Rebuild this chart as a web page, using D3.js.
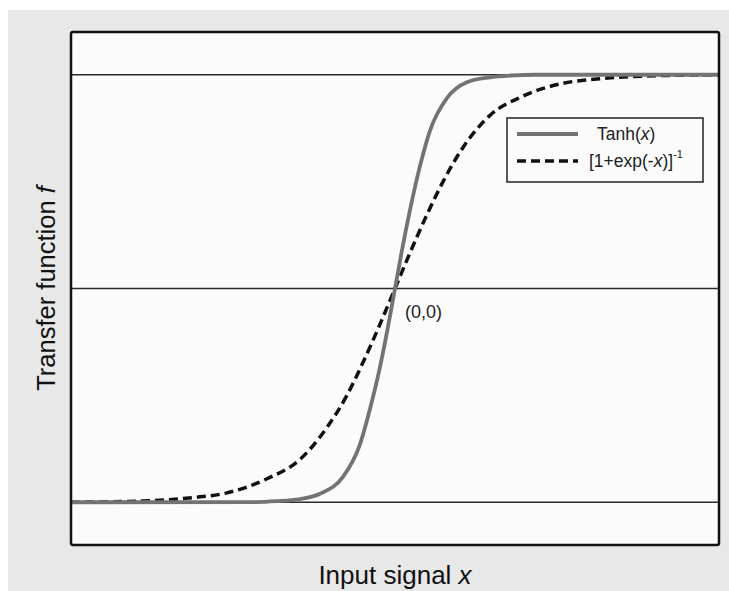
<!DOCTYPE html>
<html><head><meta charset="utf-8">
<script src="https://cdn.jsdelivr.net/npm/d3@7"></script>
<style>body{margin:0;background:#fff;font-family:Arial,"Liberation Sans",sans-serif}</style>
</head><body>
<svg id="c" width="729" height="591"></svg>
<script>
// Data (x = input signal, y = transfer function, scaled to [-1,1])
const tanhX = [-6, -2.6, -2.19, -1.76, -1.39, -0.96, -0.65, -0.46, -0.28, -0.13, 0, 0.13, 0.28, 0.46, 0.65, 0.96, 1.33, 1.76, 2.19, 2.6, 6];
const tanhY = [-1, -0.999, -0.995, -0.985, -0.96, -0.88, -0.73, -0.56, -0.37, -0.18, 0, 0.18, 0.37, 0.57, 0.74, 0.89, 0.965, 0.988, 0.997, 1.0, 1.0];
const sigX = [-6, -4.67, -3.74, -3.11, -2.37, -1.76, -1.26, -0.89, -0.60, -0.30, 0, 0.30, 0.60, 0.89, 1.26, 1.76, 2.37, 3.11, 3.74, 4.67, 6];
const sigY = [-1, -0.994, -0.978, -0.956, -0.89, -0.80, -0.65, -0.50, -0.35, -0.18, 0, 0.18, 0.35, 0.50, 0.66, 0.81, 0.90, 0.96, 0.98, 0.994, 1.0];
const refLines = [-1, 0, 1];
const xLabel = "Input signal ";
const yLabel = "Transfer function ";
const originLabel = "(0,0)";

const svg = d3.select("#c");
const W = 729, H = 591;
const m = {left: 71, top: 32, right: 719, bottom: 545};

svg.append("rect").attr("x", 8).attr("y", 10).attr("width", W - 8).attr("height", H - 10).attr("fill", "#e8e8e8");

const x = d3.scaleLinear().domain([-6, 6]).range([m.left, m.right]);
const y = d3.scaleLinear().domain([-1.2, 1.2]).range([m.bottom, m.top]);

svg.append("rect").attr("x", m.left).attr("y", m.top)
  .attr("width", m.right - m.left).attr("height", m.bottom - m.top)
  .attr("fill", "#fbfbfb");

const g = svg.append("g");
g.selectAll("line.ref").data(refLines).join("line").attr("class", "ref")
  .attr("x1", m.left).attr("x2", m.right)
  .attr("y1", d => y(d)).attr("y2", d => y(d))
  .attr("stroke", "#2a2a2a").attr("stroke-width", 1.3);

const line = d3.line().x(d => x(d[0])).y(d => y(d[1])).curve(d3.curveMonotoneX);
const tanhData = tanhX.map((v, i) => [v, tanhY[i]]);
const sigData = sigX.map((v, i) => [v, sigY[i]]);

g.append("path").datum(sigData).attr("d", line).attr("fill", "none")
  .attr("stroke", "#111").attr("stroke-width", 3.5).attr("stroke-dasharray", "9,5");
g.append("path").datum(tanhData).attr("d", line).attr("fill", "none")
  .attr("stroke", "#737373").attr("stroke-width", 3.8);

// plot border
svg.append("rect").attr("x", m.left).attr("y", m.top)
  .attr("width", m.right - m.left).attr("height", m.bottom - m.top)
  .attr("rx", 2).attr("fill", "none").attr("stroke", "#111").attr("stroke-width", 2.5);

// origin label
svg.append("text").attr("x", x(0) + 10).attr("y", y(0) + 29)
  .attr("font-size", 18).attr("fill", "#222").text(originLabel);

// legend
const lg = svg.append("g");
lg.append("rect").attr("x", 507).attr("y", 118).attr("width", 196).attr("height", 64)
  .attr("fill", "#fbfbfb").attr("stroke", "#222").attr("stroke-width", 1.5);
lg.append("line").attr("x1", 517).attr("x2", 578).attr("y1", 134).attr("y2", 134)
  .attr("stroke", "#737373").attr("stroke-width", 3.8);
lg.append("line").attr("x1", 517).attr("x2", 578).attr("y1", 161).attr("y2", 161)
  .attr("stroke", "#111").attr("stroke-width", 3.5).attr("stroke-dasharray", "9,5");
const t1 = lg.append("text").attr("x", 597).attr("y", 140).attr("font-size", 17.5).attr("fill", "#222");
t1.append("tspan").text("Tanh(");
t1.append("tspan").attr("font-style", "italic").text("x");
t1.append("tspan").text(")");
const t2 = lg.append("text").attr("x", 589).attr("y", 167).attr("font-size", 17.5).attr("fill", "#222");
t2.append("tspan").text("[1+exp(-");
t2.append("tspan").attr("font-style", "italic").text("x");
t2.append("tspan").text(")]");
t2.append("tspan").attr("font-size", 11).attr("dy", -9).text("-1");

// axis labels
const xl = svg.append("text").attr("x", x(0)).attr("y", 584).attr("text-anchor", "middle")
  .attr("font-size", 26).attr("fill", "#111");
xl.append("tspan").text(xLabel);
xl.append("tspan").attr("font-style", "italic").text("x");

const yl = svg.append("text").attr("transform", `translate(55,${y(0)}) rotate(-90)`)
  .attr("text-anchor", "middle").attr("font-size", 25.5).attr("fill", "#111");
yl.append("tspan").text(yLabel);
yl.append("tspan").attr("font-style", "italic").text("f");
</script>
</body></html>
